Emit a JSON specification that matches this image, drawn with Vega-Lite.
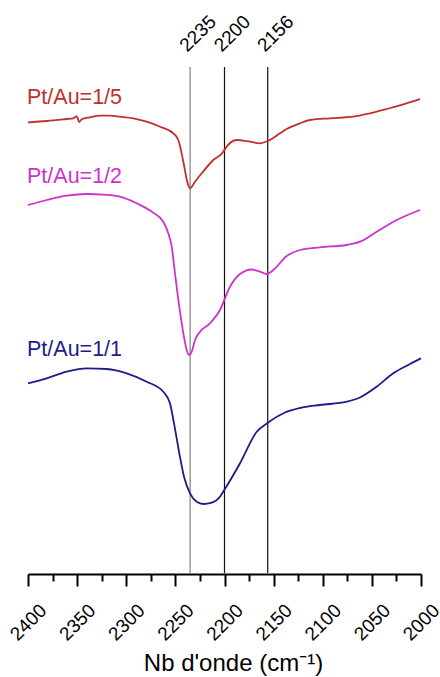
{
  "$schema": "https://vega.github.io/schema/vega-lite/v6.json",
  "width": 393,
  "height": 574,
  "autosize": {"type": "none"},
  "padding": {"left": 28, "right": 19, "top": 0, "bottom": 103},
  "background": "white",
  "config": {"view": {"stroke": null}, "font": "Liberation Sans"},
  "datasets": {
    "spectra": [
      {"s": "Pt/Au=1/5", "wn": 2400, "a": 4.507},
      {"s": "Pt/Au=1/5", "wn": 2381, "a": 4.52},
      {"s": "Pt/Au=1/5", "wn": 2360.6, "a": 4.54},
      {"s": "Pt/Au=1/5", "wn": 2353.9, "a": 4.547},
      {"s": "Pt/Au=1/5", "wn": 2350.4, "a": 4.567},
      {"s": "Pt/Au=1/5", "wn": 2347.8, "a": 4.51},
      {"s": "Pt/Au=1/5", "wn": 2345.3, "a": 4.537},
      {"s": "Pt/Au=1/5", "wn": 2336.9, "a": 4.557},
      {"s": "Pt/Au=1/5", "wn": 2326.7, "a": 4.573},
      {"s": "Pt/Au=1/5", "wn": 2316.5, "a": 4.573},
      {"s": "Pt/Au=1/5", "wn": 2306.4, "a": 4.563},
      {"s": "Pt/Au=1/5", "wn": 2292.8, "a": 4.547},
      {"s": "Pt/Au=1/5", "wn": 2279.2, "a": 4.513},
      {"s": "Pt/Au=1/5", "wn": 2265.6, "a": 4.463},
      {"s": "Pt/Au=1/5", "wn": 2252.1, "a": 4.397},
      {"s": "Pt/Au=1/5", "wn": 2247.0, "a": 4.33},
      {"s": "Pt/Au=1/5", "wn": 2241.9, "a": 4.113},
      {"s": "Pt/Au=1/5", "wn": 2237.9, "a": 3.913},
      {"s": "Pt/Au=1/5", "wn": 2235.1, "a": 3.847},
      {"s": "Pt/Au=1/5", "wn": 2230.0, "a": 3.913},
      {"s": "Pt/Au=1/5", "wn": 2223.2, "a": 3.997},
      {"s": "Pt/Au=1/5", "wn": 2211.4, "a": 4.13},
      {"s": "Pt/Au=1/5", "wn": 2201.2, "a": 4.213},
      {"s": "Pt/Au=1/5", "wn": 2199.5, "a": 4.24},
      {"s": "Pt/Au=1/5", "wn": 2187.6, "a": 4.33},
      {"s": "Pt/Au=1/5", "wn": 2174.0, "a": 4.313},
      {"s": "Pt/Au=1/5", "wn": 2163.9, "a": 4.297},
      {"s": "Pt/Au=1/5", "wn": 2156.0, "a": 4.32},
      {"s": "Pt/Au=1/5", "wn": 2143.5, "a": 4.397},
      {"s": "Pt/Au=1/5", "wn": 2136.7, "a": 4.44},
      {"s": "Pt/Au=1/5", "wn": 2123.2, "a": 4.497},
      {"s": "Pt/Au=1/5", "wn": 2113.0, "a": 4.53},
      {"s": "Pt/Au=1/5", "wn": 2092.6, "a": 4.547},
      {"s": "Pt/Au=1/5", "wn": 2068.9, "a": 4.563},
      {"s": "Pt/Au=1/5", "wn": 2051.9, "a": 4.597},
      {"s": "Pt/Au=1/5", "wn": 2034.9, "a": 4.64},
      {"s": "Pt/Au=1/5", "wn": 2018.0, "a": 4.687},
      {"s": "Pt/Au=1/5", "wn": 2001.0, "a": 4.74},
      {"s": "Pt/Au=1/2", "wn": 2400, "a": 3.68},
      {"s": "Pt/Au=1/2", "wn": 2381, "a": 3.73},
      {"s": "Pt/Au=1/2", "wn": 2360.6, "a": 3.773},
      {"s": "Pt/Au=1/2", "wn": 2340.3, "a": 3.79},
      {"s": "Pt/Au=1/2", "wn": 2323.4, "a": 3.783},
      {"s": "Pt/Au=1/2", "wn": 2306.4, "a": 3.763},
      {"s": "Pt/Au=1/2", "wn": 2289.4, "a": 3.697},
      {"s": "Pt/Au=1/2", "wn": 2272.5, "a": 3.603},
      {"s": "Pt/Au=1/2", "wn": 2262.3, "a": 3.513},
      {"s": "Pt/Au=1/2", "wn": 2257.2, "a": 3.397},
      {"s": "Pt/Au=1/2", "wn": 2253.7, "a": 3.263},
      {"s": "Pt/Au=1/2", "wn": 2250.4, "a": 2.997},
      {"s": "Pt/Au=1/2", "wn": 2246.0, "a": 2.663},
      {"s": "Pt/Au=1/2", "wn": 2241.9, "a": 2.397},
      {"s": "Pt/Au=1/2", "wn": 2238.5, "a": 2.23},
      {"s": "Pt/Au=1/2", "wn": 2236.1, "a": 2.18},
      {"s": "Pt/Au=1/2", "wn": 2233.4, "a": 2.213},
      {"s": "Pt/Au=1/2", "wn": 2230.0, "a": 2.33},
      {"s": "Pt/Au=1/2", "wn": 2224.9, "a": 2.413},
      {"s": "Pt/Au=1/2", "wn": 2214.8, "a": 2.497},
      {"s": "Pt/Au=1/2", "wn": 2204.6, "a": 2.63},
      {"s": "Pt/Au=1/2", "wn": 2194.4, "a": 2.863},
      {"s": "Pt/Au=1/2", "wn": 2184.2, "a": 2.99},
      {"s": "Pt/Au=1/2", "wn": 2172.3, "a": 3.035},
      {"s": "Pt/Au=1/2", "wn": 2163.9, "a": 3.013},
      {"s": "Pt/Au=1/2", "wn": 2157.0, "a": 2.99},
      {"s": "Pt/Au=1/2", "wn": 2150.3, "a": 3.03},
      {"s": "Pt/Au=1/2", "wn": 2136.7, "a": 3.17},
      {"s": "Pt/Au=1/2", "wn": 2123.2, "a": 3.23},
      {"s": "Pt/Au=1/2", "wn": 2102.8, "a": 3.257},
      {"s": "Pt/Au=1/2", "wn": 2075.6, "a": 3.28},
      {"s": "Pt/Au=1/2", "wn": 2062.1, "a": 3.313},
      {"s": "Pt/Au=1/2", "wn": 2045.1, "a": 3.413},
      {"s": "Pt/Au=1/2", "wn": 2024.7, "a": 3.53},
      {"s": "Pt/Au=1/2", "wn": 2001.0, "a": 3.63},
      {"s": "Pt/Au=1/1", "wn": 2400, "a": 1.897},
      {"s": "Pt/Au=1/1", "wn": 2381, "a": 1.947},
      {"s": "Pt/Au=1/1", "wn": 2360.6, "a": 2.013},
      {"s": "Pt/Au=1/1", "wn": 2340.3, "a": 2.047},
      {"s": "Pt/Au=1/1", "wn": 2319.9, "a": 2.04},
      {"s": "Pt/Au=1/1", "wn": 2299.5, "a": 1.997},
      {"s": "Pt/Au=1/1", "wn": 2279.2, "a": 1.913},
      {"s": "Pt/Au=1/1", "wn": 2262.3, "a": 1.813},
      {"s": "Pt/Au=1/1", "wn": 2255.5, "a": 1.697},
      {"s": "Pt/Au=1/1", "wn": 2251.4, "a": 1.497},
      {"s": "Pt/Au=1/1", "wn": 2246.0, "a": 1.197},
      {"s": "Pt/Au=1/1", "wn": 2241.2, "a": 0.963},
      {"s": "Pt/Au=1/1", "wn": 2235.1, "a": 0.797},
      {"s": "Pt/Au=1/1", "wn": 2228.3, "a": 0.713},
      {"s": "Pt/Au=1/1", "wn": 2221.6, "a": 0.69},
      {"s": "Pt/Au=1/1", "wn": 2213.0, "a": 0.703},
      {"s": "Pt/Au=1/1", "wn": 2204.6, "a": 0.763},
      {"s": "Pt/Au=1/1", "wn": 2200.2, "a": 0.83},
      {"s": "Pt/Au=1/1", "wn": 2184.2, "a": 1.097},
      {"s": "Pt/Au=1/1", "wn": 2167.2, "a": 1.413},
      {"s": "Pt/Au=1/1", "wn": 2156.2, "a": 1.5},
      {"s": "Pt/Au=1/1", "wn": 2138.4, "a": 1.605},
      {"s": "Pt/Au=1/1", "wn": 2123.2, "a": 1.65},
      {"s": "Pt/Au=1/1", "wn": 2102.8, "a": 1.68},
      {"s": "Pt/Au=1/1", "wn": 2075.6, "a": 1.713},
      {"s": "Pt/Au=1/1", "wn": 2062.1, "a": 1.755},
      {"s": "Pt/Au=1/1", "wn": 2045.1, "a": 1.863},
      {"s": "Pt/Au=1/1", "wn": 2028.2, "a": 1.997},
      {"s": "Pt/Au=1/1", "wn": 2011.2, "a": 2.09},
      {"s": "Pt/Au=1/1", "wn": 2000, "a": 2.147}
    ],
    "peaks": [
      {"wn": 2235, "label": "2235", "bottom": 0, "top": 5.06},
      {"wn": 2200, "label": "2200", "bottom": 0, "top": 5.06},
      {"wn": 2156, "label": "2156", "bottom": 0, "top": 5.06}
    ],
    "names": [
      {"s": "Pt/Au=1/5", "wn": 2400, "a": 4.69},
      {"s": "Pt/Au=1/2", "wn": 2400, "a": 3.9},
      {"s": "Pt/Au=1/1", "wn": 2400, "a": 2.17}
    ]
  },
  "encoding": {
    "x": {
      "field": "wn",
      "type": "quantitative",
      "scale": {"domain": [2400, 2000], "nice": false, "zero": false},
      "axis": {
        "title": "Nb d'onde (cm⁻¹)",
        "titleFontSize": 24,
        "titleFontWeight": "normal",
        "titleColor": "black",
        "titleX": 205,
        "titleY": 96,
        "titleAlign": "center",
        "titleBaseline": "alphabetic",
        "titleAnchor": null,
        "values": [2400, 2375, 2350, 2325, 2300, 2275, 2250, 2225, 2200, 2175, 2150, 2125, 2100, 2075, 2050, 2025, 2000],
        "labelExpr": "datum.value % 50 === 0 ? datum.label : ''",
        "format": "d",
        "labelAngle": -45,
        "labelAlign": "center",
        "labelBaseline": "middle",
        "labelFontSize": 19,
        "labelColor": "black",
        "labelPadding": 36,
        "labelOverlap": false,
        "labelFlush": false,
        "grid": false,
        "domainColor": "black",
        "domainWidth": 2,
        "tickColor": "black",
        "tickWidth": 2,
        "tickSize": {"condition": {"test": "datum.value % 50 === 0", "value": 12}, "value": 7}
      }
    },
    "y": {
      "field": "a",
      "type": "quantitative",
      "scale": {"domain": [-0.01, 5.73], "nice": false, "zero": false},
      "axis": null
    }
  },
  "layer": [
    {
      "data": {"name": "peaks"},
      "mark": {"type": "rule", "strokeWidth": 1.2},
      "encoding": {
        "y": {"field": "bottom", "type": "quantitative"},
        "y2": {"field": "top"},
        "stroke": {"condition": {"test": "datum.wn === 2235", "value": "#808080"}, "value": "#111111"}
      }
    },
    {
      "data": {"name": "peaks"},
      "mark": {"type": "text", "angle": 315, "align": "left", "baseline": "alphabetic", "fontSize": 19, "dx": 8, "dy": -12, "color": "black"},
      "encoding": {
        "y": {"field": "top", "type": "quantitative"},
        "text": {"field": "label"}
      }
    },
    {
      "data": {"name": "spectra"},
      "mark": {"type": "line", "strokeWidth": 1.8, "interpolate": "monotone"},
      "encoding": {
        "color": {
          "field": "s",
          "type": "nominal",
          "scale": {"domain": ["Pt/Au=1/5", "Pt/Au=1/2", "Pt/Au=1/1"], "range": ["#C0302C", "#CC33CC", "#1C1C8C"]},
          "legend": null
        },
        "detail": {"field": "s"}
      }
    },
    {
      "data": {"name": "names"},
      "mark": {"type": "text", "align": "left", "baseline": "alphabetic", "fontSize": 21.5, "dx": -1},
      "encoding": {
        "text": {"field": "s"},
        "color": {"field": "s", "type": "nominal", "legend": null}
      }
    }
  ]
}
